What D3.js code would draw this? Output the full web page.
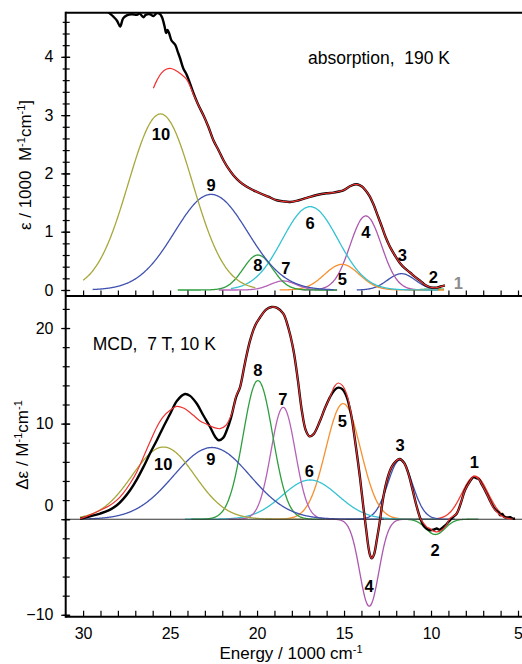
<!DOCTYPE html>
<html><head><meta charset="utf-8">
<script src="https://cdn.jsdelivr.net/npm/d3@7"></script>
<style>
body{margin:0;background:#fff}
svg{display:block}
text{font-family:"Liberation Sans",Arial,Helvetica,sans-serif;fill:#000}
</style>
</head><body>
<svg id="c" width="522" height="664"></svg>
<script>
// ---------- DATA ----------
const energyTicks = [30, 25, 20, 15, 10, 5];
const absTicks = [0, 1, 2, 3, 4];
const mcdTicks = [-10, 0, 10, 20];

// absorption, 190 K (experimental) [energy/1000 cm-1, eps/1000]
const absExpE = [28.70,28.45,28.26,28.05,27.87,27.70,27.49,27.20,26.91,26.75,26.53,26.40,26.15,25.95,25.76,25.60,25.48,25.38,25.30,25.23,25.15,25.05,24.92,24.71,24.55,24.43,24.24,24.04,23.86,23.66,23.40,23.09,22.80,22.51,22.20,21.94,21.66,21.36,21.00,20.59,20.20,19.83,19.35,18.87,18.50,18.10,17.60,17.14,16.57,16.00,15.61,15.30,15.04,14.66,14.40,14.20,13.95,13.79,13.55,13.31,13.07,12.83,12.60,12.36,12.05,11.78,11.50,11.21,10.90,10.63,10.40,10.16,9.90,9.67,9.45,9.20];
const absExpV = [4.80,4.74,4.69,4.62,4.52,4.66,4.71,4.73,4.72,4.74,4.68,4.72,4.73,4.70,4.75,4.74,4.69,4.60,4.50,4.41,4.46,4.40,4.28,4.21,4.08,3.98,3.80,3.69,3.55,3.38,3.19,3.00,2.80,2.57,2.39,2.23,2.09,1.97,1.86,1.77,1.71,1.66,1.60,1.54,1.52,1.51,1.54,1.58,1.63,1.66,1.67,1.69,1.71,1.78,1.81,1.81,1.77,1.72,1.62,1.47,1.28,1.09,0.90,0.74,0.58,0.46,0.37,0.30,0.22,0.16,0.10,0.06,0.04,0.04,0.06,0.08];
// absorption fit
const absFitE = [25.96,25.75,25.50,25.20,24.95,24.70,24.40,24.04,23.66,23.40,23.09,22.80,22.51,22.20,21.94,21.66,21.36,21.00,20.59,20.20,19.83,19.35,18.87,18.50,18.10,17.60,17.14,16.57,16.00,15.61,15.30,15.04,14.66,14.40,14.20,13.95,13.79,13.55,13.31,13.07,12.83,12.60,12.36,12.05,11.78,11.50,11.21,10.90,10.63,10.40,10.16,9.90,9.67,9.45,9.20];
const absFitV = [3.46,3.60,3.72,3.79,3.80,3.77,3.71,3.61,3.36,3.19,3.00,2.80,2.57,2.39,2.23,2.09,1.97,1.86,1.77,1.71,1.66,1.60,1.54,1.52,1.51,1.54,1.58,1.63,1.66,1.67,1.69,1.71,1.78,1.81,1.81,1.77,1.72,1.62,1.47,1.28,1.09,0.90,0.74,0.58,0.46,0.37,0.30,0.22,0.16,0.10,0.06,0.04,0.04,0.06,0.08];

// MCD, 7 T, 10 K (experimental) [energy/1000 cm-1, delta eps]
const mcdExpE = [30.17,29.60,29.02,28.50,28.06,27.70,27.30,26.90,26.53,26.15,25.76,25.40,25.00,24.60,24.14,23.85,23.47,23.10,22.70,22.40,22.20,21.95,21.74,21.50,21.20,20.98,20.70,20.40,20.10,19.83,19.50,19.16,18.85,18.49,18.20,17.91,17.65,17.43,17.20,16.99,16.75,16.38,16.10,15.80,15.55,15.33,15.10,14.85,14.60,14.37,14.10,13.89,13.72,13.60,13.50,13.41,13.28,13.12,12.95,12.74,12.50,12.26,12.00,11.80,11.55,11.30,11.05,10.82,10.62,10.44,10.25,10.06,9.85,9.67,9.50,9.29,9.10,8.91,8.72,8.52,8.30,8.05,7.75,7.55,7.40,7.25,7.10,6.90,6.65,6.42,6.25,6.10,6.03,5.90,5.80,5.65,5.45,5.30,5.17];
const mcdExpV = [0.05,0.30,0.59,0.95,1.46,2.10,3.03,4.20,5.47,6.90,8.26,9.60,11.00,12.40,13.10,12.90,12.10,10.90,9.65,8.60,8.26,8.50,9.30,10.60,12.80,13.80,16.30,18.70,20.30,21.10,21.90,22.20,22.10,21.50,20.00,17.70,14.50,11.40,9.30,8.67,8.90,10.30,11.60,12.80,13.50,13.76,13.60,12.80,11.00,8.26,4.60,1.30,-1.20,-2.90,-3.80,-4.10,-3.70,-2.20,-0.30,2.33,4.30,5.47,6.10,6.30,5.90,4.78,3.00,1.30,0.10,-0.63,-1.00,-1.15,-1.10,-0.98,-1.10,-0.80,-0.50,-0.10,0.25,0.60,1.60,3.03,4.00,4.40,4.30,4.20,3.70,3.03,2.10,1.29,0.90,0.70,0.42,0.55,0.25,0.17,0.20,0.05,0.07];
// MCD fit
const mcdFitE = [30.17,29.60,29.02,28.50,28.06,27.70,27.30,26.90,26.53,26.15,25.76,25.40,25.00,24.62,24.20,23.66,23.30,22.89,22.50,22.13,21.80,21.55,21.36,21.20,20.98,20.70,20.40,20.10,19.83,19.50,19.16,18.85,18.49,18.20,17.91,17.65,17.43,17.20,16.99,16.75,16.38,16.10,15.80,15.55,15.33,15.10,14.85,14.60,14.37,14.10,13.89,13.72,13.60,13.50,13.41,13.28,13.12,12.95,12.74,12.50,12.26,12.00,11.80,11.55,11.30,11.05,10.82,10.62,10.44,10.25,10.06,9.85,9.67,9.50,9.29,9.10,8.91,8.72,8.52,8.30,8.05,7.75,7.55,7.40,7.25,7.10,6.90,6.65,6.42,6.10,5.80,5.50,5.30];
const mcdFitV = [0.05,0.45,0.94,1.40,1.99,2.70,3.73,5.00,6.51,8.10,9.65,10.70,11.39,11.80,11.60,10.87,10.30,9.93,9.60,9.47,9.80,10.60,11.60,12.90,13.80,16.30,18.70,20.30,21.10,21.90,22.20,22.10,21.50,20.00,17.70,14.50,11.40,9.30,8.67,8.90,10.30,11.60,12.80,13.90,14.25,14.00,13.10,11.10,8.26,4.60,1.30,-1.20,-2.90,-3.80,-4.10,-3.70,-2.20,-0.30,2.33,4.30,5.47,6.10,6.30,5.90,4.78,3.00,1.30,0.10,-0.40,-0.80,-0.98,-1.25,-1.32,-1.25,-0.98,-0.55,0.10,0.30,0.60,1.60,3.03,4.00,4.50,4.40,4.20,3.70,3.03,2.10,1.20,0.55,0.20,0.05,0.00];

// Gaussian band components 1..10
const bandNames = ["1","2","3","4","5","6","7","8","9","10"];
const bandColors = ["#f03a30","#2e9e3e","#4052b0","#ac58ae","#f7902f","#35c2d2","#b661b8","#2e9e3e","#4052b0","#a7a83c"];
// absorption components
const absCenter = [7.47, 9.80, 11.70, 13.75, 15.12, 16.95, 18.50, 19.95, 22.64, 25.55];
const absSigma  = [0.75, 0.60, 0.80, 0.90, 1.00, 1.60, 0.75, 0.85, 2.10, 1.85];
const absHeight = [0.00, 0.02, 0.28, 1.27, 0.44, 1.43, 0.155, 0.60, 1.64, 3.02];
const absFrom   = [7.0, 9.25, 9.5, 9.6, 9.25, 9.6, 15.4, 15.4, 15.6, 20.1];
const absTo     = [8.0, 11.2, 14.27, 17.4, 18.7, 21.5, 22.2, 24.56, 29.45, 30.0];
// MCD components
const mcdCenter = [7.47, 9.75, 11.78, 13.55, 15.05, 16.95, 18.50, 19.95, 22.60, 25.38];
const mcdSigma  = [0.75, 0.55, 0.70, 0.55, 1.00, 1.60, 0.70, 0.85, 2.20, 1.80];
const mcdHeight = [4.5, -1.6, 6.2, -9.1, 12.1, 4.1, 11.7, 14.5, 7.5, 7.55];
// label anchors [energy, value]
const absLabelE = [8.43, 9.87, 11.65, 13.75, 15.10, 16.95, 18.35, 19.96, 22.64, 25.52];
const absLabelV = [0.115, 0.23, 0.60, 0.99, 0.19, 1.15, 0.38, 0.43, 1.80, 2.68];
const mcdLabelE = [7.51, 9.77, 11.78, 13.56, 15.10, 16.99, 18.52, 19.96, 22.66, 25.39];
const mcdLabelV = [5.99, -3.24, 7.73, -6.97, 10.27, 5.05, 12.6, 15.64, 6.34, 5.75];

// ---------- CHART ----------
const svg = d3.select("#c");
const X0 = 65.7, X1 = 522, TT = 12.7, TB = 296, BB = 616.7;
const x = d3.scaleLinear().domain([31, 4.77]).range([X0, X1]);
const yT = d3.scaleLinear().domain([-0.103, 4.757]).range([TB, TT]);
const yB = d3.scaleLinear().domain([-10.2, 23.35]).range([BB, TB]);

const defs = svg.append("defs");
defs.append("clipPath").attr("id","clipT").append("rect").attr("x",X0).attr("y",TT).attr("width",X1-X0).attr("height",TB-TT);
defs.append("clipPath").attr("id","clipB").append("rect").attr("x",X0).attr("y",TB).attr("width",X1-X0).attr("height",BB-TB);

function gauss(c, s, h, from, to) {
  const pts = [];
  const n = Math.ceil((to - from) / 0.04);
  for (let i = 0; i <= n; i++) {
    const v = to - (to - from) * i / n;
    pts.push([v, h * Math.exp(-((v - c) * (v - c)) / (2 * s * s))]);
  }
  return pts;
}
const smooth = d3.curveCatmullRom.alpha(0.5);

// ---- top panel ----
const gT = svg.append("g").attr("clip-path","url(#clipT)");
const lineT = d3.line().x(d => x(d[0])).y(d => yT(d[1])).curve(smooth);
bandNames.forEach((b, i) => {
  if (absHeight[i] <= 0) return;
  gT.append("path").attr("d", lineT(gauss(absCenter[i], absSigma[i], absHeight[i], absFrom[i], absTo[i])))
    .attr("fill","none").attr("stroke", bandColors[i]).attr("stroke-width",1.3);
});
gT.append("path").attr("d", lineT(absExpE.map((e,i)=>[e,absExpV[i]])))
  .attr("fill","none").attr("stroke","#000").attr("stroke-width",2.4).attr("stroke-linejoin","round");
gT.append("path").attr("d", lineT(absFitE.map((e,i)=>[e,absFitV[i]])))
  .attr("fill","none").attr("stroke","#f03030").attr("stroke-width",1.2);

// ---- bottom panel ----
const gB = svg.append("g").attr("clip-path","url(#clipB)");
const lineB = d3.line().x(d => x(d[0])).y(d => yB(d[1])).curve(smooth);
bandNames.forEach((b, i) => {
  const c = mcdCenter[i], s = mcdSigma[i];
  gB.append("path").attr("d", lineB(gauss(c, s, mcdHeight[i], Math.max(5.17, c - 4.5*s), Math.min(30.17, c + 4.5*s))))
    .attr("fill","none").attr("stroke", bandColors[i]).attr("stroke-width",1.3);
});
gB.append("line").attr("x1",X0).attr("x2",X1).attr("y1",yB(0)).attr("y2",yB(0))
  .attr("stroke","#333").attr("stroke-width",1.1);
gB.append("path").attr("d", lineB(mcdExpE.map((e,i)=>[e,mcdExpV[i]])))
  .attr("fill","none").attr("stroke","#000").attr("stroke-width",2.4).attr("stroke-linejoin","round");
gB.append("path").attr("d", lineB(mcdFitE.map((e,i)=>[e,mcdFitV[i]])))
  .attr("fill","none").attr("stroke","#f03030").attr("stroke-width",1.2);

// ---- axes ----
const FONT = "Liberation Sans, Arial, sans-serif";
function clean(g){ g.select(".domain").remove(); g.selectAll("line").attr("stroke","#000").attr("stroke-width",1.2); }
const minorE = d3.range(5, 31, 1);
svg.append("g").attr("transform",`translate(0,${TB})`).call(d3.axisBottom(x).tickValues(minorE).tickSize(-5.5).tickFormat("")).call(clean);
svg.append("g").attr("transform",`translate(0,${BB})`).call(d3.axisBottom(x).tickValues(minorE).tickSize(-6).tickFormat("")).call(clean);
svg.append("g").attr("transform",`translate(0,${BB})`).call(d3.axisBottom(x).tickValues(energyTicks).tickSize(0).tickPadding(10.5).tickFormat(d3.format("d")))
  .call(g=>g.select(".domain").remove()).selectAll("text").attr("font-size",16).style("font-family",FONT);
const minorA = d3.range(0, 4.61, 0.2);
svg.append("g").attr("transform",`translate(${X0+4},0)`).call(d3.axisLeft(yT).tickValues(minorA).tickSize(7).tickFormat("")).call(clean);
svg.append("g").attr("transform",`translate(${X0+4.5},0)`).call(d3.axisLeft(yT).tickValues(absTicks).tickSize(9).tickFormat("")).call(clean);
svg.append("g").attr("transform",`translate(${X0},0)`).call(d3.axisLeft(yT).tickValues(absTicks).tickSize(0).tickPadding(12.2).tickFormat(d3.format("d")))
  .call(g=>g.select(".domain").remove()).selectAll("text").attr("font-size",16).style("font-family",FONT);
const minorM = d3.range(-10, 23, 2);
svg.append("g").attr("transform",`translate(${X0+4},0)`).call(d3.axisLeft(yB).tickValues(minorM).tickSize(7).tickFormat("")).call(clean);
svg.append("g").attr("transform",`translate(${X0+4.5},0)`).call(d3.axisLeft(yB).tickValues(mcdTicks).tickSize(9).tickFormat("")).call(clean);
const yBl = svg.append("g").attr("transform",`translate(${X0},0)`).call(d3.axisLeft(yB).tickValues(mcdTicks).tickSize(0).tickPadding(12.2).tickFormat(d3.format("d")))
  .call(g=>g.select(".domain").remove());
yBl.selectAll("text").attr("font-size",16).style("font-family",FONT);
yBl.selectAll(".tick").filter(d => d === 0).select("text").attr("y", -14);

// frame lines
const fr = svg.append("g").attr("stroke","#000").attr("stroke-width",2).attr("fill","none");
fr.append("line").attr("x1",X0).attr("x2",X0).attr("y1",TT-1).attr("y2",BB+1);
fr.append("line").attr("x1",X0).attr("x2",X1).attr("y1",TT).attr("y2",TT);
fr.append("line").attr("x1",X0).attr("x2",X1).attr("y1",TB).attr("y2",TB);
fr.append("line").attr("x1",X0).attr("x2",X1).attr("y1",BB).attr("y2",BB);

// band labels
bandNames.forEach((b, i) => {
  svg.append("text").attr("x", x(absLabelE[i])).attr("y", yT(absLabelV[i])).attr("dy","0.36em")
    .attr("text-anchor","middle").attr("font-size",16.5).attr("font-weight","bold")
    .style("fill", i === 0 ? "#8c8c8c" : "#000").text(b);
  svg.append("text").attr("x", x(mcdLabelE[i])).attr("y", yB(mcdLabelV[i])).attr("dy","0.36em")
    .attr("text-anchor","middle").attr("font-size",16.5).attr("font-weight","bold").text(b);
});

// annotations
svg.append("text").attr("x",308).attr("y",64).attr("font-size",17.5).style("white-space","pre").text("absorption,  190 K");
svg.append("text").attr("x",92.7).attr("y",349.6).attr("font-size",17.5).style("white-space","pre").text("MCD,  7 T, 10 K");

// axis titles
const xt = svg.append("text").attr("x",291).attr("y",659).attr("text-anchor","middle").attr("font-size",17);
xt.append("tspan").text("Energy / 1000 cm");
xt.append("tspan").attr("dy",-6).attr("font-size",11).text("-1");

const yt1 = svg.append("text").attr("transform","translate(31,165) rotate(-90)").attr("text-anchor","middle").attr("font-size",17).style("white-space","pre");
yt1.append("tspan").text("ε / 1000  M");
yt1.append("tspan").attr("dy",-6).attr("font-size",11).text("-1");
yt1.append("tspan").attr("dy",6).text("cm");
yt1.append("tspan").attr("dy",-6).attr("font-size",11).text("-1");
yt1.append("tspan").attr("dy",6).text("]");

const yt2 = svg.append("text").attr("transform","translate(28,445) rotate(-90)").attr("text-anchor","middle").attr("font-size",17);
yt2.append("tspan").text("Δε / M");
yt2.append("tspan").attr("dy",-6).attr("font-size",11).text("-1");
yt2.append("tspan").attr("dy",6).text("cm");
yt2.append("tspan").attr("dy",-6).attr("font-size",11).text("-1");
</script>
</body></html>
